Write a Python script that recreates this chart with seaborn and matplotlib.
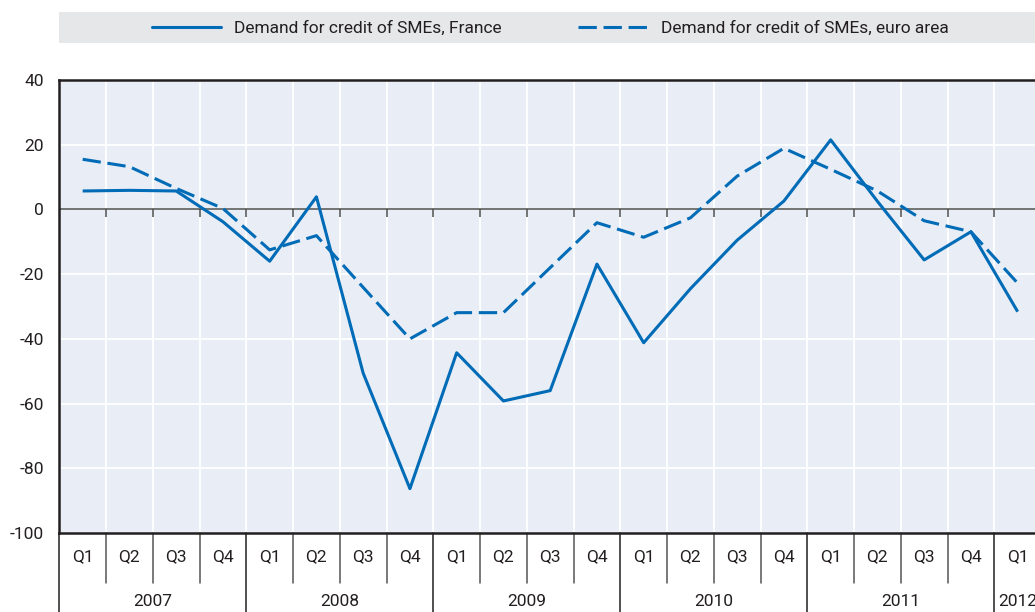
import numpy as np
import pandas as pd
import seaborn as sns
import matplotlib.pyplot as plt
import matplotlib.transforms as mtransforms
from matplotlib.lines import Line2D
from matplotlib.patches import Rectangle

# data (quarterly, 2007 Q1 - 2012 Q1)
years = ["2007", "2008", "2009", "2010", "2011", "2012"]
quarters = ["Q1", "Q2", "Q3", "Q4"] * 5 + ["Q1"]
france = [5.7, 5.9, 5.7, -3.8, -16.0, 3.9, -50.6, -86.3, -44.3, -59.2, -56.0,
          -16.9, -41.2, -24.5, -9.5, 2.6, 21.5, 2.5, -15.6, -6.9, -31.6]
euro_area = [15.5, 13.2, 6.5, 0.3, -12.5, -8.1, -24.1, -40.0, -31.9, -31.9, -18.0,
             -4.1, -8.6, -2.6, 10.3, 18.9, 12.4, 5.7, -3.5, -6.9, -22.8]
series_names = ["Demand for credit of SMEs, France", "Demand for credit of SMEs, euro area"]

blue = "#006BB6"
dark = "#231F20"
bg = "#E9EDF6"

sns.set_theme(style="white")
plt.rcParams["font.family"] = ["Liberation Sans Narrow", "Roboto", "DejaVu Sans"]
plt.rcParams["axes.unicode_minus"] = False

pos = np.arange(len(quarters))
df = pd.DataFrame({
    "pos": np.concatenate([pos, pos]),
    "value": france + euro_area,
    "series": [series_names[0]] * len(pos) + [series_names[1]] * len(pos),
})

fig = plt.figure(figsize=(10.35, 6.12), dpi=100)
ax = fig.add_axes([59.3 / 1035, 79 / 612, (21 * 46.75) / 1035, 453 / 612])
ax.set_facecolor(bg)

sns.lineplot(data=df, x="pos", y="value", style="series", dashes=[(1, 0), (6, 2.2)],
             color=blue, linewidth=2.2, ax=ax, legend=False, zorder=3)

ax.set_xlim(-0.5, len(quarters) - 0.5)
ax.set_ylim(-100, 40)
ax.set_yticks(np.arange(-100, 41, 20))
ax.set_xticks([])
ax.set_xlabel("")
ax.set_ylabel("")

# grid
for b in np.arange(0.5, len(quarters) - 0.5, 1):
    ax.axvline(b, color="white", lw=1.3, zorder=1)
for v in np.arange(-80, 40, 20):
    ax.axhline(v, color="white", lw=1.3, zorder=1)
ax.axhline(0, color="#4D4D4D", lw=1.1, zorder=2)
ax.vlines(np.arange(0.5, len(quarters) - 0.5, 1), -2.2, 0, color="#4D4D4D", lw=1.1, zorder=2)

for s in ["left", "bottom", "top"]:
    ax.spines[s].set_color(dark)
    ax.spines[s].set_linewidth(1.8)
ax.spines["right"].set_visible(False)
ax.tick_params(axis="y", direction="in", length=5, width=1, color=dark,
               labelsize=12.5, labelcolor=dark, pad=11)

# category axis: quarters and years
trans = mtransforms.blended_transform_factory(ax.transData, ax.transAxes)
for i, q in enumerate(quarters):
    ax.text(i, -0.052, q, transform=trans, ha="center", va="center",
            fontsize=12.5, color=dark)
for b in np.arange(-0.5, len(quarters), 1):
    is_year = (b + 0.5) % 4 == 0
    ax.add_line(Line2D([b, b], [0, -0.3 if is_year else -0.11], transform=trans,
                       color="#555555" if not is_year else dark, lw=1.1,
                       clip_on=False))
for k, y in enumerate(years):
    start = 4 * k - 0.5
    end = min(start + 4, len(quarters) - 0.5)
    ax.text((start + end) / 2, -0.152, y, transform=trans, ha="center",
            va="center", fontsize=12.5, color=dark)

# legend band
fig.patches.append(Rectangle((59 / 1035, 1 - 43 / 612), 1 - 59 / 1035, 31 / 612,
                             transform=fig.transFigure, facecolor="#E6E7E9",
                             edgecolor="none", zorder=0))
handles = [Line2D([], [], color=blue, lw=2.2),
           Line2D([], [], color=blue, lw=2.2, dashes=(6, 2.2))]
fig.legend(handles, series_names, loc="center", bbox_to_anchor=(550 / 1035, 1 - 28 / 612),
           ncol=2, frameon=False, fontsize=12.5, handlelength=4.0, handletextpad=0.75,
           columnspacing=4.4, labelcolor=dark)

fig.savefig("out.png", dpi=100)
